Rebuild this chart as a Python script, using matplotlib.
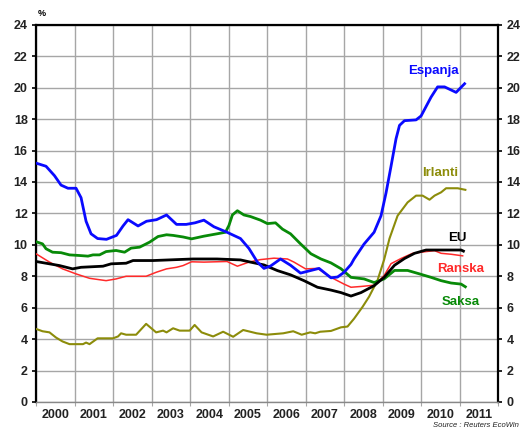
import matplotlib
matplotlib.use("Agg")
import matplotlib.pyplot as plt
from matplotlib.ticker import MultipleLocator, FixedLocator

plt.rcParams['font.family'] = ['Liberation Sans', 'DejaVu Sans']

# data (decimal years, unemployment %)
espanja_t = [2000.0, 2000.26, 2000.48, 2000.65, 2000.83, 2001.04, 2001.17, 2001.3, 2001.43, 2001.6,
             2001.83, 2002.09, 2002.26, 2002.39, 2002.65, 2002.87, 2003.13, 2003.39, 2003.65, 2003.9,
             2004.13, 2004.36, 2004.62, 2004.96, 2005.31, 2005.53, 2005.75, 2005.92, 2006.09, 2006.35,
             2006.61, 2006.87, 2007.35, 2007.66, 2007.83, 2008.0, 2008.18, 2008.26, 2008.52, 2008.78,
             2008.96, 2009.09, 2009.22, 2009.35, 2009.44, 2009.57, 2009.87, 2010.0, 2010.26, 2010.43,
             2010.61, 2010.91, 2011.13]
espanja = [15.2, 15.0, 14.4, 13.8, 13.6, 13.6, 13.0, 11.5, 10.7, 10.4,
           10.35, 10.6, 11.2, 11.6, 11.2, 11.5, 11.6, 11.9, 11.3, 11.3,
           11.4, 11.57, 11.15, 10.8, 10.4, 9.77, 8.9, 8.5, 8.65, 9.1,
           8.7, 8.2, 8.5, 7.9, 7.95, 8.25, 8.75, 9.1, 10.05, 10.8,
           11.85, 13.3, 15.0, 16.75, 17.6, 17.9, 17.95, 18.2, 19.4, 20.05,
           20.05, 19.7, 20.25]

irlanti_t = [2000.0, 2000.17, 2000.35, 2000.52, 2000.69, 2000.87, 2001.22, 2001.3, 2001.39, 2001.6,
             2002.0, 2002.13, 2002.21, 2002.34, 2002.6, 2002.86, 2003.12, 2003.3, 2003.39, 2003.56,
             2003.73, 2003.99, 2004.12, 2004.3, 2004.6, 2004.86, 2005.12, 2005.38, 2005.73, 2005.99,
             2006.42, 2006.68, 2006.9, 2007.12, 2007.25, 2007.38, 2007.66, 2007.92, 2008.09, 2008.26,
             2008.48, 2008.65, 2008.87, 2009.04, 2009.18, 2009.39, 2009.65, 2009.87, 2010.04, 2010.22,
             2010.35, 2010.52, 2010.65, 2010.95, 2011.15]
irlanti = [4.65, 4.5, 4.43, 4.1, 3.85, 3.68, 3.68, 3.78, 3.68, 4.05,
           4.05, 4.17, 4.37, 4.28, 4.28, 4.97, 4.43, 4.54, 4.43, 4.69,
           4.54, 4.54, 4.9, 4.43, 4.17, 4.47, 4.15, 4.58, 4.37, 4.28,
           4.37, 4.5, 4.28, 4.43, 4.37, 4.47, 4.52, 4.75, 4.8, 5.3,
           6.05, 6.7, 7.75, 9.05, 10.4, 11.85, 12.7, 13.13, 13.13, 12.87,
           13.13, 13.34, 13.6, 13.6, 13.5]

eu_t = [2000.0, 2000.35, 2000.61, 2000.95, 2001.17, 2001.74, 2001.95, 2002.34, 2002.52, 2003.04,
        2004.08, 2004.7, 2005.31, 2005.57, 2005.92, 2006.27, 2006.61, 2006.96, 2007.31, 2007.66,
        2007.92, 2008.18, 2008.44, 2008.78, 2009.04, 2009.31, 2009.57, 2009.83, 2010.13, 2010.52,
        2011.04, 2011.1]
eu = [8.94, 8.79, 8.68, 8.47, 8.57, 8.64, 8.79, 8.83, 9.0, 9.0,
      9.1, 9.1, 9.04, 8.9, 8.72, 8.36, 8.09, 7.72, 7.3, 7.12,
      6.96, 6.74, 6.96, 7.4, 7.93, 8.7, 9.13, 9.46, 9.67, 9.67,
      9.67, 9.6]

ranska_t = [2000.0, 2000.35, 2000.69, 2001.04, 2001.39, 2001.82, 2002.08, 2002.34, 2002.86, 2003.13,
            2003.39, 2003.65, 2003.82, 2004.04, 2004.36, 2004.96, 2005.23, 2005.53, 2005.83, 2006.18,
            2006.53, 2006.7, 2007.0, 2007.31, 2007.66, 2008.0, 2008.18, 2008.44, 2008.78, 2009.04,
            2009.22, 2009.48, 2009.78, 2010.13, 2010.35, 2010.52, 2010.78, 2011.08]
ranska = [9.43, 8.9, 8.47, 8.15, 7.87, 7.72, 7.83, 8.0, 8.0, 8.26,
          8.47, 8.57, 8.68, 8.92, 8.9, 8.94, 8.64, 8.9, 9.06, 9.15,
          9.1, 8.9, 8.47, 8.5, 7.93, 7.5, 7.3, 7.35, 7.43, 8.04,
          8.8, 9.13, 9.46, 9.57, 9.63, 9.46, 9.4, 9.3]

saksa_t = [2000.0, 2000.17, 2000.26, 2000.43, 2000.65, 2000.87, 2001.13, 2001.35, 2001.48, 2001.65,
           2001.82, 2002.08, 2002.3, 2002.47, 2002.69, 2002.95, 2003.17, 2003.39, 2003.56, 2003.82,
           2004.04, 2004.36, 2004.7, 2004.92, 2005.01, 2005.1, 2005.23, 2005.4, 2005.57, 2005.83,
           2006.01, 2006.22, 2006.4, 2006.61, 2006.87, 2007.14, 2007.4, 2007.66, 2007.92, 2008.18,
           2008.52, 2008.78, 2009.04, 2009.31, 2009.65, 2009.96, 2010.26, 2010.52, 2010.78, 2011.04,
           2011.15]
saksa = [10.2, 10.06, 9.75, 9.53, 9.5, 9.36, 9.32, 9.28, 9.36, 9.36,
         9.57, 9.64, 9.53, 9.79, 9.85, 10.17, 10.53, 10.64, 10.6, 10.5,
         10.38, 10.55, 10.7, 10.8, 11.23, 11.9, 12.17, 11.9, 11.8, 11.57,
         11.35, 11.4, 11.0, 10.7, 10.06, 9.43, 9.1, 8.85, 8.48, 7.93,
         7.83, 7.6, 7.83, 8.37, 8.37, 8.15, 7.93, 7.72, 7.57, 7.5,
         7.33]

years = list(range(2000, 2012))
yticks = list(range(0, 25, 2))

fig = plt.figure(figsize=(5.31, 4.43), dpi=100)
ax = fig.add_axes([0.0678, 0.0926, 0.8702, 0.8514])

grid_c = '#a6a6a6'
ax.plot(irlanti_t, irlanti, color='#8c8c0a', lw=1.5, zorder=3)
ax.plot(ranska_t, ranska, color='#ff2a2a', lw=1.1, zorder=4)
ax.plot(saksa_t, saksa, color='#088a08', lw=2.0, zorder=4)
ax.plot(eu_t, eu, color='black', lw=2.0, zorder=5)
ax.plot(espanja_t, espanja, color='#0a0aff', lw=2.0, zorder=6)

lab = dict(fontsize=9.5, fontweight='bold', ha='center', va='center')
ax.text(2010.31, 21.05, 'Espanja', color='#0a0aff', **lab)
ax.text(2010.5, 14.57, 'Irlanti', color='#8c8c0a', **lab)
ax.text(2010.94, 10.43, 'EU', color='black', **lab)
ax.text(2011.04, 8.43, 'Ranska', color='#ff2a2a', **lab)
ax.text(2011.02, 6.36, 'Saksa', color='#088a08', **lab)

ax.set_xlim(2000, 2012)
ax.set_ylim(0, 24)
ax.set_yticks(yticks)
ax.xaxis.set_major_locator(MultipleLocator(1))
ax.xaxis.set_minor_locator(FixedLocator([y + 0.5 for y in years]))
ax.set_xticklabels([])
ax.set_xticklabels([str(y) for y in years], minor=True)
ax.tick_params(axis='x', which='major', length=3, color=grid_c)
ax.tick_params(axis='x', which='minor', length=0, pad=5)
ax.tick_params(axis='y', which='major', length=3, width=1.2, left=True, right=True,
               labelleft=True, labelright=True, pad=3)
for t in ax.get_xticklabels(minor=True) + ax.get_yticklabels():
    t.set_fontweight('bold')
    t.set_fontsize(9)
    t.set_color('#222222')

ax.grid(True, which='major', color=grid_c, lw=1.0)
ax.set_axisbelow(True)
for s in ['left', 'right', 'top']:
    ax.spines[s].set_linewidth(1.6)
    ax.spines[s].set_color('black')
ax.spines['bottom'].set_color('#888888')
ax.spines['bottom'].set_linewidth(1.0)

fig.text(0.079, 0.97, '%', fontsize=6.5, fontweight='bold', ha='center', va='center')
fig.text(0.978, 0.04, 'Source : Reuters EcoWin', fontsize=5.5, style='italic',
         ha='right', va='center', color='#222222')

fig.savefig('out.png', dpi=100)
